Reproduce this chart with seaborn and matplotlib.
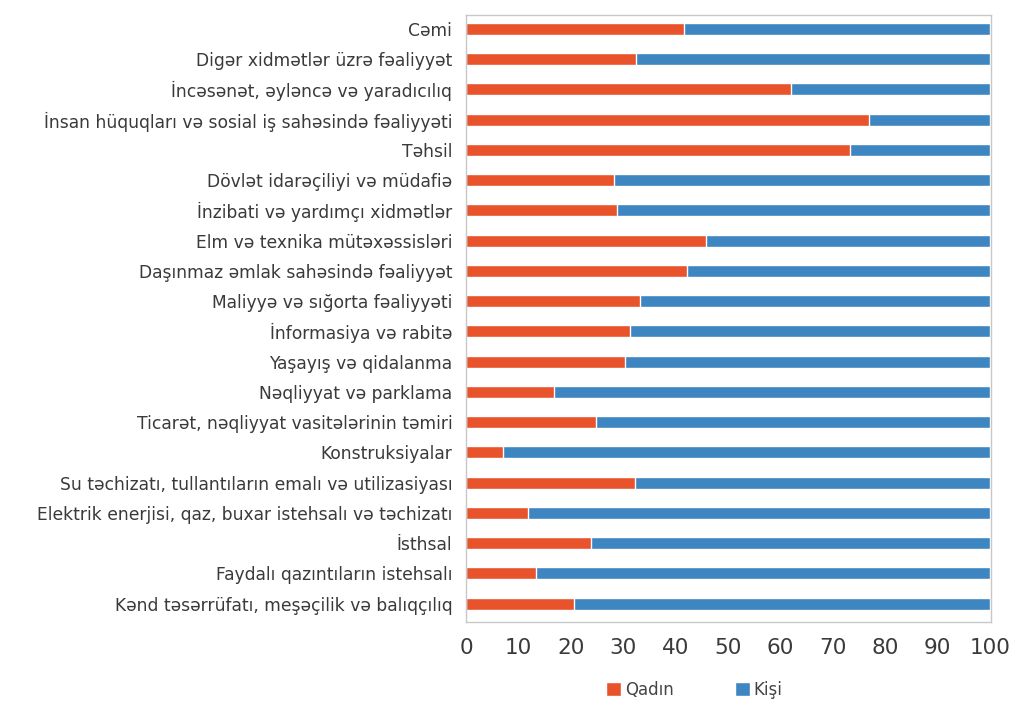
import matplotlib
matplotlib.use("Agg")
import matplotlib.pyplot as plt
import seaborn as sns
import pandas as pd
from matplotlib.patches import Patch

categories = [
    "Cəmi",
    "Digər xidmətlər üzrə fəaliyyət",
    "İncəsənət, əyləncə və yaradıcılıq",
    "İnsan hüquqları və sosial iş sahəsində fəaliyyəti",
    "Təhsil",
    "Dövlət idarəçiliyi və müdafiə",
    "İnzibati və yardımçı xidmətlər",
    "Elm və texnika mütəxəssisləri",
    "Daşınmaz əmlak sahəsində fəaliyyət",
    "Maliyyə və sığorta fəaliyyəti",
    "İnformasiya və rabitə",
    "Yaşayış və qidalanma",
    "Nəqliyyat və parklama",
    "Ticarət, nəqliyyat vasitələrinin təmiri",
    "Konstruksiyalar",
    "Su təchizatı, tullantıların emalı və utilizasiyası",
    "Elektrik enerjisi, qaz, buxar istehsalı və təchizatı",
    "İsthsal",
    "Faydalı qazıntıların istehsalı",
    "Kənd təsərrüfatı, meşəçilik və balıqçılıq",
]
qadin = [41.5, 32.4, 62.1, 76.9, 73.2, 28.3, 28.7, 45.8, 42.1, 33.1,
         31.2, 30.4, 16.8, 24.8, 7.1, 32.3, 11.7, 23.8, 13.3, 20.5]
kisi = [round(100 - q, 1) for q in qadin]
series_names = ["Qadın", "Kişi"]
xticks = list(range(0, 101, 10))

RED = "#E8532B"
BLUE = "#3D86C2"

df = pd.DataFrame({"cat": categories, "qadin": qadin, "kisi": kisi})
df["total"] = df["qadin"] + df["kisi"]

sns.set_theme(style="white")
plt.rcParams["font.family"] = ["DejaVu Sans"]

fig = plt.figure(figsize=(10.18, 7.09), dpi=100)
ax = fig.add_axes([0.458, 0.123, 0.5155, 0.856])

# stacked: full bar in blue, women's share drawn over it from zero
sns.barplot(data=df, x="total", y="cat", color=BLUE, width=0.4,
            orient="h", ax=ax, saturation=1)
sns.barplot(data=df, x="qadin", y="cat", color=RED, width=0.4,
            orient="h", ax=ax, saturation=1)

ax.set_xlim(0, 100.2)
ax.set_ylim(19.6, -0.46)
ax.set_xticks(xticks)
ax.set_xticklabels([str(t) for t in xticks], fontsize=15.5, color="#3a3a3a")
ax.tick_params(axis="y", labelsize=12.3, labelcolor="#3a3a3a", length=0, pad=10)
ax.tick_params(axis="x", length=0, pad=12)
ax.set_xlabel("")
ax.set_ylabel("")
for sp in ax.spines.values():
    sp.set_visible(True)
    sp.set_color("#c8c8c8")
    sp.set_linewidth(1.0)

handles = [Patch(facecolor=RED, label=series_names[0]),
           Patch(facecolor=BLUE, label=series_names[1])]
leg = fig.legend(handles=handles, loc="center", bbox_to_anchor=(0.682, 0.027),
                 ncol=2, frameon=False, fontsize=12, handlelength=0.9,
                 handleheight=0.9, handletextpad=0.2, columnspacing=3.7)
for t in leg.get_texts():
    t.set_color("#444444")

fig.savefig("out.png", dpi=100)
